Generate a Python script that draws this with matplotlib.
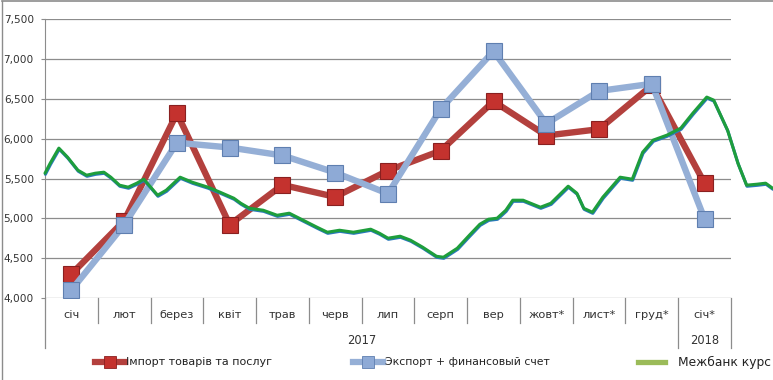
import matplotlib
matplotlib.use('Agg')
import matplotlib.pyplot as plt
import matplotlib.patheffects as pe
import matplotlib.transforms as mtrans
from matplotlib.lines import Line2D

months = ['січ', 'лют', 'берез', 'квіт', 'трав', 'черв', 'лип', 'серп', 'вер',
          'жовт*', 'лист*', 'груд*', 'січ*']
imports = [4300, 4970, 6320, 4920, 5420, 5270, 5600, 5850, 6470, 6040, 6120, 6670, 5440]
exports = [4100, 4920, 5950, 5890, 5790, 5575, 5310, 6375, 7100, 6190, 6600, 6690, 4990]

# interbank rate, days from 1 Jan 2017 (scaled to the same axis)
rate_day = [0, 3, 8, 13, 19, 24, 29, 34, 38, 43, 48, 53, 57, 61, 65, 70, 78, 85, 94,
            101, 109, 113, 118, 126, 134, 141, 149, 157, 163, 170, 178, 188, 193, 198,
            205, 211, 218, 226, 230, 238, 245, 251, 256, 261, 266, 270, 276, 286, 292,
            302, 307, 311, 316, 322, 332, 339, 345, 351, 359, 367, 374, 382, 386, 394,
            400, 405, 411, 416, 420]
rate = [5567, 5693, 5882, 5769, 5605, 5542, 5567, 5580, 5517, 5417, 5392, 5442, 5492,
        5392, 5291, 5354, 5517, 5454, 5392, 5329, 5253, 5190, 5127, 5102, 5039, 5065,
        4977, 4889, 4826, 4851, 4826, 4864, 4814, 4751, 4776, 4726, 4638, 4524, 4512,
        4625, 4789, 4926, 4989, 5002, 5102, 5228, 5228, 5140, 5190, 5404, 5316, 5127,
        5077, 5266, 5517, 5492, 5831, 5982, 6045, 6133, 6322, 6523, 6485, 6108, 5693,
        5417, 5429, 5442, 5379]

W, H = 773, 380
fig = plt.figure(figsize=(W / 100, H / 100), dpi=100)
ax = fig.add_axes([45 / W, (H - 298) / H, 686 / W, 278.7 / H])

grey = '#8c8c8c'
red_line, red_face, red_edge = '#b3403d', '#c4322e', '#8a2020'
blue_line, blue_face, blue_edge = '#95afd6', '#8eaad6', '#5f7fb0'

x = list(range(len(months)))
ax.plot(x, imports, color=red_line, lw=4.6, marker='s', ms=12,
        mfc=red_face, mec=red_edge, mew=0.8, solid_joinstyle='miter', zorder=3)
ax.plot(x, exports, color=blue_line, lw=4.6, marker='s', ms=12,
        mfc=blue_face, mec=blue_edge, mew=0.8, solid_joinstyle='miter', zorder=4)

ax.set_xlim(-0.5, len(months) - 0.5)
ax.set_ylim(4000, 7500)
ax.set_yticks(range(4000, 7501, 500))
ax.set_yticklabels([f'{v:,}' for v in range(4000, 7501, 500)])
ax.grid(axis='y', color=grey, lw=0.9)
ax.set_axisbelow(True)
for s in ['top', 'right', 'bottom']:
    ax.spines[s].set_visible(False)
ax.spines['left'].set_color(grey)
ax.tick_params(axis='y', direction='out', length=3, color=grey, labelsize=7.6,
               labelcolor='#333333', pad=5)
ax.set_xticks(x)
ax.set_xticklabels(months)
ax.tick_params(axis='x', length=0, labelsize=8.2, labelcolor='#333333', pad=9)

# category separators and year groups
trans = mtrans.blended_transform_factory(ax.transData, ax.transAxes)
for k in range(len(months) + 1):
    bottom = -0.18 if k in (0, 12, 13) else -0.09
    ax.plot([k - 0.5, k - 0.5], [0, bottom], color=grey, lw=0.9,
            transform=trans, clip_on=False)
ax.text(5.5, -0.152, '2017', transform=trans, ha='center', va='center',
        fontsize=8.3, color='#333333')
ax.text(12, -0.152, '2018', transform=trans, ha='center', va='center',
        fontsize=8.3, color='#333333')

# interbank rate on its own daily x axis
ax2 = ax.twiny()
ax2.set_xlim(0, 396)
ax2.axis('off')
ax2.plot(rate_day, rate, color='#1e9e3c', lw=2.2, clip_on=False,
         solid_joinstyle='round', solid_capstyle='round',
         path_effects=[pe.SimpleLineShadow(offset=(0.3, -0.8), shadow_color='#2a78bd',
                                           alpha=1, rho=1), pe.Normal()])

# legend drawn by hand
def fx(px):
    return px / W

def fy(py):
    return (H - py) / H

ly = 362
fig.add_artist(Line2D([fx(95), fx(125)], [fy(ly), fy(ly)], color=red_line, lw=4.5))
fig.add_artist(Line2D([fx(110)], [fy(ly)], marker='s', ms=8, mfc=red_face,
                      mec=red_edge, mew=0.6, ls='none'))
fig.text(fx(126), fy(ly), 'Імпорт товарів та послуг', fontsize=8, va='center',
         color='#222222')
fig.add_artist(Line2D([fx(353), fx(383)], [fy(ly), fy(ly)], color=blue_line, lw=4.5))
fig.add_artist(Line2D([fx(368)], [fy(ly)], marker='s', ms=8, mfc=blue_face,
                      mec=blue_edge, mew=0.6, ls='none'))
fig.text(fx(385), fy(ly), 'Экспорт + финансовый счет', fontsize=7.8, va='center',
         color='#222222')
fig.add_artist(Line2D([fx(638), fx(665)], [fy(ly), fy(ly)], color='#9bbb59', lw=3.8))
fig.text(fx(678), fy(ly), 'Межбанк курс $', fontsize=8.8, va='center',
         color='#222222')

# chart border
fig.add_artist(Line2D([fx(1.5), fx(1.5)], [0, fy(0.5)], color=grey, lw=1))
fig.add_artist(Line2D([fx(1.5), 1], [fy(0.5), fy(0.5)], color=grey, lw=1.2))

fig.savefig('out.png', dpi=100)
